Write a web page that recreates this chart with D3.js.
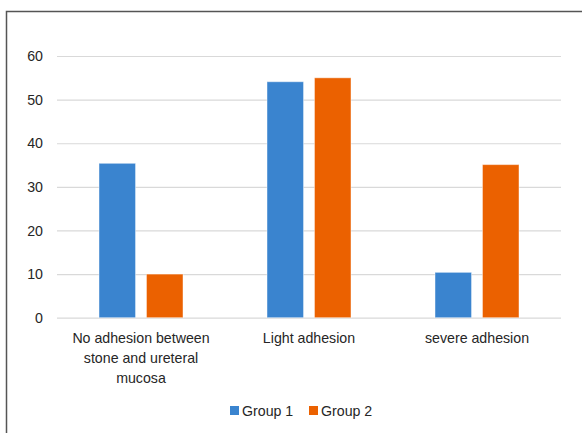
<!DOCTYPE html>
<html><head><meta charset="utf-8">
<script src="https://cdn.jsdelivr.net/npm/d3@7"></script>
<style>body{margin:0;background:#fff}svg{display:block}</style>
</head><body>
<script>
const categories = [["No adhesion between","stone and ureteral","mucosa"],["Light adhesion"],["severe adhesion"]];
const seriesNames = ["Group 1","Group 2"];
const group1 = [35.4, 54.1, 10.4];
const group2 = [10, 55, 35.1];
const yTicks = [0,10,20,30,40,50,60];
const colors = ["#3a84cf","#eb6100"];

(function(){
const W=582,H=433;
const svg=d3.select("body").append("svg").attr("width",W).attr("height",H);
const font="'Liberation Sans', Arial, sans-serif";
const fs=14.2, tc="#262626";

svg.append("path").attr("d","M6.5,433 L6.5,11.5 L582,11.5").attr("fill","none").attr("stroke","#555").attr("stroke-width",1.5);

const pl=57,pr=561,pt=56,pb=317.7;
const y=d3.scaleLinear().domain([0,60]).range([pb,pt]);
const x0=d3.scaleBand().domain(d3.range(categories.length)).range([pl,pr]).paddingInner(0).paddingOuter(0);
const x1=d3.scaleBand().domain(d3.range(seriesNames.length)).range([42,x0.bandwidth()-42]).paddingInner(0.23);

const yAxis=d3.axisLeft(y).tickValues(yTicks).tickSize(-(pr-pl)).tickPadding(14);
const ga=svg.append("g").attr("transform",`translate(${pl},0)`).call(yAxis);
ga.select(".domain").remove();
ga.selectAll(".tick line").attr("stroke","#d9d9d9").attr("stroke-width",1.2);
ga.selectAll(".tick text").attr("font-family",font).attr("font-size",fs).attr("fill",tc);

const data=[group1,group2];
const g=svg.append("g");
categories.forEach((c,i)=>{
  seriesNames.forEach((s,j)=>{
    const v=data[j][i];
    g.append("rect").attr("x",x0(i)+x1(j)).attr("width",x1.bandwidth())
     .attr("y",y(v)).attr("height",y(0)-y(v)).attr("fill",colors[j])
     .attr("stroke","rgba(255,255,255,0.45)").attr("stroke-width",1);
  });
  const t=svg.append("text").attr("font-family",font).attr("font-size",fs).attr("fill",tc).attr("text-anchor","middle");
  c.forEach((line,k)=>{
    t.append("tspan").attr("x",x0(i)+x0.bandwidth()/2).attr("y",343+k*20).text(line);
  });
});

const leg=svg.append("g");
const legX=[230,309];
seriesNames.forEach((s,j)=>{
  leg.append("rect").attr("x",legX[j]).attr("y",406).attr("width",9).attr("height",9).attr("fill",colors[j]);
  leg.append("text").attr("x",legX[j]+12).attr("y",415.5).attr("font-family",font).attr("font-size",fs).attr("fill",tc).text(s);
});
})();
</script>
</body></html>
